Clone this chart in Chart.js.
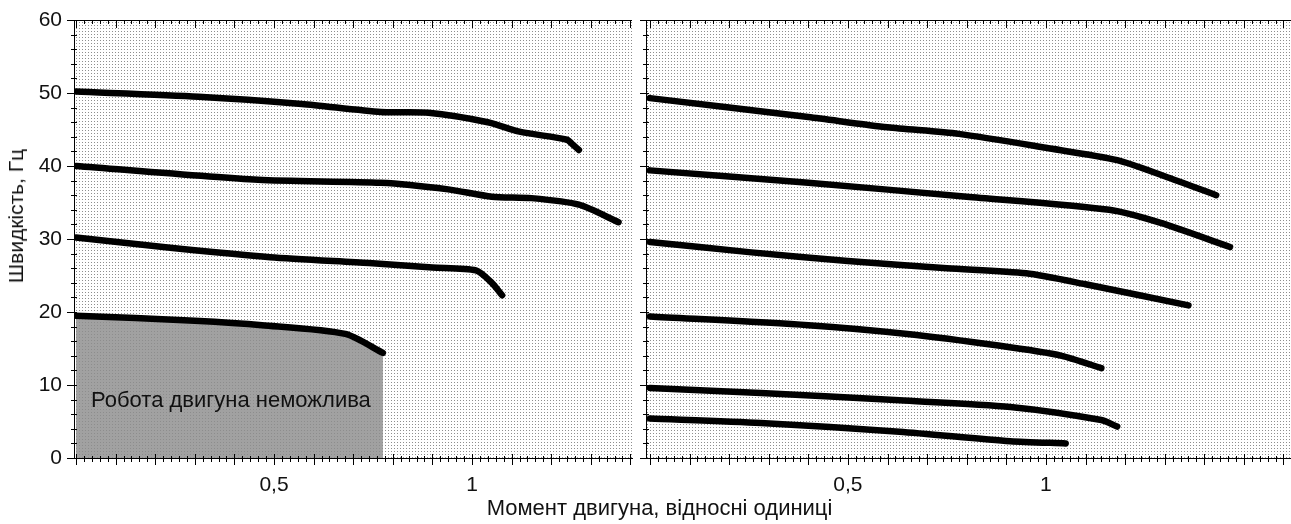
<!DOCTYPE html>
<html>
<head>
<meta charset="utf-8">
<script src="https://cdn.jsdelivr.net/npm/chart.js@4"></script>
<style>
  body { margin: 0; background: #fff; font-family: Arial, "Liberation Sans", sans-serif; }
  #wrap { position: relative; width: 1291px; height: 524px; overflow: hidden; }
  #leftBox { position: absolute; left: 0; top: 0; width: 640px; height: 524px; }
  #rightBox { position: absolute; left: 640px; top: 0; width: 651px; height: 524px; }
  #xTitle { position: absolute; left: 14px; width: 1291px; top: 495px; text-align: center; font-size: 22px; color: #111; }
  #yTitle { position: absolute; left: 16px; top: 216px; font-size: 21px; color: #111; white-space: nowrap;
            transform: translate(-50%, -50%) rotate(-90deg); }
</style>
</head>
<body>
<div id="wrap">
  <div id="leftBox"><canvas id="leftChart"></canvas></div>
  <div id="rightBox"><canvas id="rightChart"></canvas></div>
  <div id="yTitle">Швидкість, Гц</div>
  <div id="xTitle">Момент двигуна, відносні одиниці</div>
</div>
<script>
// axis labels
const xTickLabels = [0.5, 1];
const yTickLabels = [0, 10, 20, 30, 40, 50, 60];
const zoneLabel = 'Робота двигуна неможлива';

// left panel curves (torque, speed)
const left50X = [0, 0.31, 0.57, 0.77, 0.89, 1.04, 1.12, 1.24, 1.255, 1.27];
const left50Y = [50.2, 49.5, 48.5, 47.4, 47.3, 46.0, 44.7, 43.6, 42.9, 42.2];
const left40X = [0, 0.46, 0.77, 0.94, 1.05, 1.15, 1.27, 1.37];
const left40Y = [40.0, 38.1, 37.7, 36.8, 35.8, 35.6, 34.7, 32.3];
const left30X = [0, 0.22, 0.49, 0.74, 0.9, 1.01, 1.05, 1.076];
const left30Y = [30.2, 28.9, 27.5, 26.7, 26.1, 25.7, 24.0, 22.3];
const left20X = [0, 0.3, 0.47, 0.68, 0.775];
const left20Y = [19.5, 18.8, 18.2, 17.0, 14.4];

// right panel curves
const right50X = [0, 0.4, 0.6, 0.78, 1.0, 1.18, 1.3, 1.43];
const right50Y = [49.3, 46.7, 45.3, 44.4, 42.5, 40.8, 38.6, 36.0];
const right40X = [0, 0.4, 0.8, 1.16, 1.29, 1.465];
const right40Y = [39.4, 37.7, 35.8, 34.0, 32.2, 28.9];
const right30X = [0, 0.25, 0.5, 0.75, 0.95, 1.1, 1.36];
const right30Y = [29.6, 28.2, 27.0, 26.0, 25.3, 23.8, 20.9];
const right20X = [0, 0.4, 0.65, 0.88, 1.04, 1.14];
const right20Y = [19.4, 18.2, 17.0, 15.4, 14.0, 12.3];
const right10X = [0, 0.28, 0.63, 0.91, 1.14, 1.18];
const right10Y = [9.6, 8.9, 7.9, 7.0, 5.2, 4.3];
const right5X = [0, 0.28, 0.63, 0.91, 1.05];
const right5Y = [5.4, 4.8, 3.6, 2.3, 2.0];

const pts = (xs, ys) => xs.map((x, i) => ({ x: x, y: ys[i] }));
const FONT = 'Arial, "Liberation Sans", sans-serif';

function curve(xs, ys, fillGrey) {
  return {
    data: pts(xs, ys),
    borderColor: '#000',
    borderWidth: 6.5,
    borderCapStyle: 'round',
    borderJoinStyle: 'round',
    tension: 0.25,
    pointRadius: 0,
    fill: fillGrey ? 'origin' : false,
    backgroundColor: fillGrey ? 'rgba(140,140,140,0.82)' : 'transparent'
  };
}

// dotted paper background
const paper = {
  id: 'paper',
  beforeDatasetsDraw(chart) {
    const { ctx, chartArea: a } = chart;
    const tile = document.createElement('canvas');
    tile.width = 3; tile.height = 3;
    const t = tile.getContext('2d');
    t.fillStyle = '#8e8e8e';
    t.fillRect(1, 1, 1, 1);
    ctx.save();
    ctx.fillStyle = ctx.createPattern(tile, 'repeat');
    ctx.fillRect(a.left, a.top, a.right - a.left, a.bottom - a.top);
    ctx.restore();
  }
};

// tick marks crossing the axes, plus the top frame line
const tickMarks = {
  id: 'tickMarks',
  afterDraw(chart) {
    const { ctx, chartArea: a } = chart;
    const xs = chart.scales.x, ys = chart.scales.y;
    ctx.save();
    ctx.strokeStyle = '#000';
    ctx.lineWidth = 1;
    ctx.beginPath();
    ctx.moveTo(a.left, a.top + 0.5); ctx.lineTo(a.right, a.top + 0.5);
    for (let i = 0; i * 0.02 <= xs.max + 1e-9; i++) {
      const px = Math.round(xs.getPixelForValue(i * 0.02)) + 0.5;
      if (px < a.left || px > a.right) continue;
      const major = i % 5 === 0;
      ctx.moveTo(px, a.bottom - (major ? 4 : 2));
      ctx.lineTo(px, a.bottom + (major ? 7 : 4));
      ctx.moveTo(px, a.top);
      ctx.lineTo(px, a.top + (major ? 8 : 4));
    }
    for (let v = 0; v <= 60; v += 2) {
      const py = Math.round(ys.getPixelForValue(v)) + 0.5;
      const major = v % 10 === 0;
      ctx.moveTo(a.left - (major ? 7 : 3), py);
      ctx.lineTo(a.left + 3, py);
    }
    ctx.stroke();
    ctx.restore();
  }
};

const zoneText = {
  id: 'zoneText',
  afterDatasetsDraw(chart) {
    const { ctx } = chart;
    ctx.save();
    ctx.fillStyle = '#111';
    ctx.font = '22px ' + FONT;
    ctx.textBaseline = 'middle';
    ctx.fillText(zoneLabel, chart.scales.x.getPixelForValue(0.038), chart.scales.y.getPixelForValue(7.8));
    ctx.restore();
  }
};

function makeChart(id, datasets, xMin, xMax, showY, leftW, padRight, extra) {
  return new Chart(document.getElementById(id), {
    type: 'line',
    data: { datasets: datasets },
    options: {
      responsive: true,
      maintainAspectRatio: false,
      animation: false,
      layout: { padding: { top: 20, right: padRight, left: 0, bottom: 0 } },
      plugins: { legend: { display: false }, tooltip: { enabled: false } },
      scales: {
        x: {
          type: 'linear', min: xMin, max: xMax,
          grid: { display: false },
          border: { display: true, color: '#000', width: 1 },
          afterBuildTicks: s => { s.ticks = xTickLabels.map(v => ({ value: v })); },
          afterFit: s => { s.height = 66; },
          ticks: {
            padding: 7, maxRotation: 0, autoSkip: false,
            color: '#111', font: { size: 21, family: FONT },
            callback: v => String(v).replace('.', ',')
          }
        },
        y: {
          min: 0, max: 60,
          grid: { display: false },
          border: { display: true, color: '#000', width: 1 },
          afterBuildTicks: s => { s.ticks = yTickLabels.map(v => ({ value: v })); },
          afterFit: s => { s.width = leftW; },
          ticks: {
            display: showY, padding: 4,
            color: '#111', font: { size: 21, family: FONT }
          }
        }
      }
    },
    plugins: [paper, tickMarks].concat(extra)
  });
}

makeChart('leftChart', [
  curve(left50X, left50Y),
  curve(left40X, left40Y),
  curve(left30X, left30Y),
  curve(left20X, left20Y, true)
], -0.005, 1.404, true, 74, 8, [zoneText]);

makeChart('rightChart', [
  curve(right50X, right50Y),
  curve(right40X, right40Y),
  curve(right30X, right30Y),
  curve(right20X, right20Y),
  curve(right10X, right10Y),
  curve(right5X, right5Y)
], -0.01, 1.619, false, 6, 0, []);
</script>
</body>
</html>
